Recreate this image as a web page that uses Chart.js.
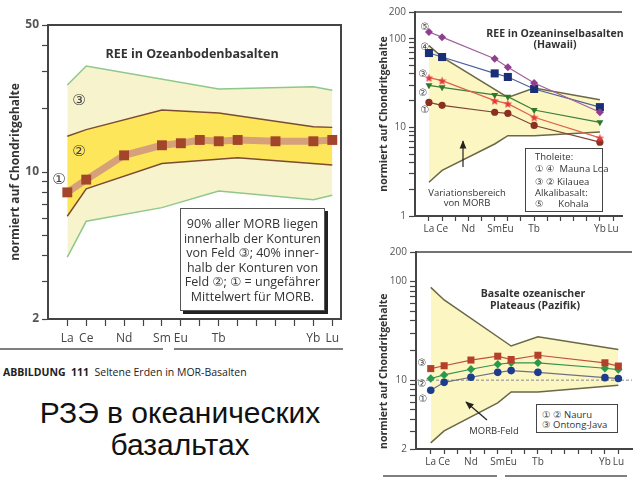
<!DOCTYPE html>
<html>
<head>
<meta charset="utf-8">
<script src="https://cdn.jsdelivr.net/npm/chart.js@4.4.1/dist/chart.umd.min.js"></script>
<style>
  body { margin: 0; width: 640px; height: 480px; background: #fff; position: relative; overflow: hidden;
         font-family: 'Open Sans', sans-serif; color: #333; }
  .pane { position: absolute; }
  .c { position: absolute; transform: translate(-50%, -50%); white-space: nowrap; }
  .l { position: absolute; transform: translateY(-50%); white-space: nowrap; }
  .num { font-family: 'DejaVu Sans', 'Noto Sans CJK JP', sans-serif; color: #444; }
  .ttl { font-weight: bold; color: #333; }
  .note { position: absolute; left: 180px; top: 208px; width: 145px; height: 103px; box-sizing: border-box;
          border: 1.5px solid #555; box-shadow: 3px 3px 0 #222; background: #fff;
          font-size: 12.5px; line-height: 14.6px; text-align: center; padding-top: 8px; color: #333; }
  .legend { position: absolute; border: 1px solid #444; background: #fff; box-sizing: border-box; }
  .ru { position: absolute; left: 0; width: 360px; text-align: center; font-family: 'Liberation Sans', Arial, sans-serif;
        font-size: 30px; color: #111; }
</style>
</head>
<body>

<div class="pane" style="left:0;top:0"><canvas id="floorChart" width="350" height="352"></canvas></div>
<div class="pane" style="left:370px;top:0"><canvas id="hawaiiChart" width="270" height="236"></canvas></div>
<div class="pane" style="left:370px;top:240px"><canvas id="plateauChart" width="270" height="232"></canvas></div>

<!-- Ozeanbodenbasalte -->
<div class="c ttl" style="left:192px;top:53px;font-size:12.5px">REE in Ozeanbodenbasalten</div>
<div class="c num" style="left:79px;top:100px;font-size:15px">③</div>
<div class="c num" style="left:79px;top:151px;font-size:15px">②</div>
<div class="c num" style="left:59px;top:179px;font-size:15px">①</div>
<div class="note">90% aller MORB liegen<br>innerhalb der Konturen<br>von Feld <span class="num">③</span>; 40% inner-<br>halb der Konturen von<br>Feld <span class="num">②</span>; <span class="num">①</span> = ungefährer<br>Mittelwert für MORB.</div>
<div class="l" style="left:3px;top:372px;font-size:10.5px;color:#222"><b>ABBILDUNG&nbsp; 111</b>&nbsp; Seltene Erden in MOR-Basalten</div>
<div class="ru" style="top:397px;line-height:32px">РЗЭ в океанических<br>базальтах</div>

<!-- Hawaii -->
<div class="c ttl" style="left:555px;top:33px;font-size:10.5px">REE in Ozeaninselbasalten</div>
<div class="c ttl" style="left:555px;top:44px;font-size:10.5px">(Hawaii)</div>
<div class="c num" style="left:425px;top:26px;font-size:10px">⑤</div>
<div class="c num" style="left:425px;top:46px;font-size:10px">④</div>
<div class="c num" style="left:423px;top:73px;font-size:10px">③</div>
<div class="c num" style="left:423px;top:92px;font-size:10px">②</div>
<div class="c num" style="left:425px;top:109px;font-size:10px">①</div>
<div class="c" style="left:467px;top:192px;font-size:9.5px">Variationsbereich</div>
<div class="c" style="left:467px;top:202px;font-size:9.5px">von MORB</div>
<div class="legend" style="left:525px;top:148px;width:78px;height:64px"></div>
<div class="l" style="left:535px;top:156px;font-size:9.5px">Tholeite:</div>
<div class="l" style="left:535px;top:168px;font-size:9.5px"><span class="num">①</span> <span class="num">④</span>&nbsp; Mauna Loa</div>
<div class="l" style="left:535px;top:181px;font-size:9.5px"><span class="num">③</span> <span class="num">②</span> Kilauea</div>
<div class="l" style="left:535px;top:192px;font-size:9.5px">Alkalibasalt:</div>
<div class="l" style="left:535px;top:203px;font-size:9.5px"><span class="num">⑤</span>&nbsp;&nbsp;&nbsp;&nbsp;&nbsp; Kohala</div>

<!-- Plateaus -->
<div class="c ttl" style="left:533px;top:293px;font-size:10.5px">Basalte ozeanischer</div>
<div class="c ttl" style="left:535px;top:305px;font-size:10.5px">Plateaus (Pazifik)</div>
<div class="c num" style="left:422px;top:362px;font-size:10px">③</div>
<div class="c num" style="left:422px;top:383px;font-size:10px">②</div>
<div class="c num" style="left:423px;top:398px;font-size:10px">①</div>
<div class="legend" style="left:536px;top:404px;width:82px;height:29px"></div>
<div class="l" style="left:542px;top:414px;font-size:9.5px"><span class="num">①</span> <span class="num">②</span> Nauru</div>
<div class="l" style="left:542px;top:424px;font-size:9.5px"><span class="num">③</span> Ontong-Java</div>
<div class="c" style="left:494px;top:430px;font-size:9.5px">MORB-Feld</div>

<svg class="pane" style="left:0;top:0" width="640" height="480">
  <defs>
    <marker id="head" viewBox="0 0 10 10" refX="9" refY="5" markerWidth="7" markerHeight="7" orient="auto">
      <path d="M0,1 L10,5 L0,9 z" fill="#222"/>
    </marker>
  </defs>
  <g stroke="#555" stroke-width="1.5">
    <line x1="0" y1="349" x2="163" y2="349"/>
    <line x1="174" y1="349" x2="343" y2="349"/>
    <line x1="383" y1="476" x2="497" y2="476"/>
    <line x1="505" y1="476" x2="627" y2="476"/>
  </g>
  <g stroke="#222" stroke-width="1.2">
    <line x1="463" y1="167" x2="463" y2="141" marker-end="url(#head)"/>
    <line x1="487" y1="420" x2="466" y2="402" marker-end="url(#head)"/>
  </g>
</svg>

<script>
// Seltene Erden, La..Lu
const elements = ['La', 'Ce', 'Pr', 'Nd', 'Pm', 'Sm', 'Eu', 'Gd', 'Tb', 'Dy', 'Ho', 'Er', 'Tm', 'Yb', 'Lu'];
const shownLabels = ['La', 'Ce', 'Nd', 'Sm', 'Eu', 'Tb', 'Yb', 'Lu'];

// REE in Ozeanbodenbasalten (MORB)
const morbMeanEl = ['La', 'Ce', 'Nd', 'Sm', 'Eu', 'Gd', 'Tb', 'Dy', 'Er', 'Yb', 'Lu'];
const morbMean = [8.0, 9.2, 12.0, 13.4, 13.7, 14.2, 14.0, 14.2, 14.0, 14.0, 14.2];
const field3UpperEl = ['La', 'Ce', 'Tb', 'Yb', 'Lu'];
const field3Upper = [25.9, 31.9, 24.8, 25.4, 24.5];
const field3LowerEl = ['La', 'Ce', 'Sm', 'Tb', 'Yb', 'Lu'];
const field3Lower = [3.94, 5.83, 6.77, 8.13, 7.39, 7.75];
const field2UpperEl = ['La', 'Ce', 'Sm', 'Tb', 'Yb', 'Lu'];
const field2Upper = [14.8, 15.9, 19.7, 19.1, 16.4, 16.3];
const field2LowerEl = ['La', 'Ce', 'Sm', 'Dy', 'Lu'];
const field2Lower = [6.16, 8.31, 10.97, 11.68, 10.81];
const floorTicks = [2, 3, 4, 5, 6, 7, 8, 9, 10, 20, 30, 40, 50];
const floorTickLabels = [2, 10, 50];

// REE in Ozeaninselbasalten (Hawaii)
const hawaiiEl = ['La', 'Ce', 'Sm', 'Eu', 'Tb', 'Yb'];
const kohala5 = [119, 104, 59.5, 47.5, 31.6, 14.8];
const maunaLoa4 = [68.9, 62.1, 40.6, 37.0, 27.1, 16.9];
const kilauea3 = [36.3, 33.6, 20.0, 18.5, 13.0, 7.6];
const kilauea2 = [29.8, 28.3, 23.2, 22.2, 15.7, 11.4];
const maunaLoa1 = [19.1, 17.7, 14.8, 14.4, 10.5, 6.8];
const hawaiiMorbUpperEl = ['La', 'Ce', 'Eu', 'Tb', 'Yb'];
const hawaiiMorbUpper = [83.4, 62.1, 21.8, 27.8, 20.5];
const hawaiiMorbLowerEl = ['La', 'Ce', 'Sm', 'Eu', 'Tb', 'Yb'];
const hawaiiMorbLower = [2.4, 3.27, 6.49, 8.06, 8.06, 8.86];
const hawaiiTicks = [1, 2, 3, 4, 5, 6, 7, 8, 9, 10, 20, 30, 40, 50, 60, 70, 80, 90, 100, 200];
const hawaiiTickLabels = [1, 10, 100, 200];

// Basalte ozeanischer Plateaus (Pazifik)
const plateauEl = ['La', 'Ce', 'Nd', 'Sm', 'Eu', 'Tb', 'Yb', 'Lu'];
const ontongJava3 = [13.1, 14.0, 16.0, 17.5, 16.2, 17.9, 15.0, 13.9];
const nauru2 = [10.4, 11.3, 12.9, 14.5, 15.0, 15.0, 13.2, 12.8];
const nauru1 = [7.9, 9.5, 10.7, 12.0, 12.5, 12.0, 10.6, 10.4];
const plateauMorbUpperEl = ['La', 'Ce', 'Eu', 'Tb', 'Lu'];
const plateauMorbUpper = [87.5, 65.2, 22.2, 27.6, 20.5];
const plateauMorbLowerEl = ['La', 'Ce', 'Sm', 'Eu', 'Tb', 'Lu'];
const plateauMorbLower = [2.31, 3.05, 5.87, 7.6, 7.6, 8.9];
const chondriteRef = 10;
const plateauTicks = [2, 3, 4, 5, 6, 7, 8, 9, 10, 20, 30, 40, 50, 60, 70, 80, 90, 100, 200];
const plateauTickLabels = [2, 10, 100, 200];

Chart.defaults.font.family = "'Open Sans', sans-serif";
Chart.defaults.animation = false;
Chart.defaults.events = [];
Chart.defaults.plugins.legend.display = false;
Chart.defaults.plugins.tooltip.enabled = false;

const pts = (els, vals) => els.map((el, i) => ({ x: elements.indexOf(el), y: vals[i] }));

// Rahmen oben (und rechts) um den Plotbereich
const frame = {
    id: 'frame',
    afterDraw(chart, args, o) {
        const { ctx, chartArea: a } = chart;
        ctx.save();
        ctx.strokeStyle = o.color || '#444';
        ctx.lineWidth = o.width || 2;
        ctx.beginPath();
        ctx.moveTo(a.left, a.top);
        ctx.lineTo(a.right, a.top);
        if (o.right) ctx.lineTo(a.right, a.bottom);
        ctx.stroke();
        ctx.restore();
    }
};

function starImage(size, color) {
    const c = document.createElement('canvas');
    c.width = c.height = size;
    const g = c.getContext('2d');
    g.fillStyle = color;
    g.beginPath();
    for (let i = 0; i < 10; i++) {
        const r = i % 2 ? size * 0.22 : size * 0.5;
        const ang = -Math.PI / 2 + i * Math.PI / 5;
        g.lineTo(size / 2 + r * Math.cos(ang), size / 2 + r * Math.sin(ang) + 0.5);
    }
    g.closePath();
    g.fill();
    return c;
}

function elementAxis(min, max, height, tickLength, padding, fontSize) {
    return {
        type: 'linear', min, max,
        afterBuildTicks: (s) => { s.ticks = elements.map((_, i) => ({ value: i })); },
        afterFit: (s) => { s.height = height; },
        ticks: {
            autoSkip: false, maxRotation: 0, padding, color: '#444', font: { size: fontSize },
            callback: (v) => (shownLabels.includes(elements[v]) ? elements[v] : '')
        },
        grid: { drawOnChartArea: false, tickLength, tickColor: '#444', tickWidth: 1.2 },
        border: { color: '#444', width: 2 }
    };
}

function logAxis(min, max, tickValues, labelValues, width, fontSize, labelWeight, titleSize, titleAlign) {
    return {
        type: 'logarithmic', min, max,
        afterBuildTicks: (s) => { s.ticks = tickValues.map((v) => ({ value: v })); },
        afterFit: (s) => { s.width = width; },
        ticks: {
            autoSkip: false, padding: 3, color: '#555', font: { size: fontSize, weight: labelWeight },
            callback: (v) => (labelValues.includes(v) ? String(v) : '')
        },
        grid: { drawOnChartArea: false, tickLength: 6, tickColor: '#444', tickWidth: 1.2 },
        border: { color: '#444', width: 2 },
        title: {
            display: true, text: 'normiert auf Chondritgehalte', align: titleAlign,
            color: '#333', font: { size: titleSize, weight: 'bold' }, padding: 0
        }
    };
}

const boundary = (data, color, fill, fillColor, order) => ({
    data, borderColor: color, borderWidth: 1.5, pointRadius: 0, tension: 0,
    fill: fill ? '+1' : false, backgroundColor: fillColor || 'transparent', order
});

const series = (data, line, mark, pointStyle, pointRadius, rotation) => ({
    data, borderColor: line, borderWidth: 1.2, tension: 0, fill: false, order: 1,
    pointStyle, pointRadius, rotation: rotation || 0,
    pointBackgroundColor: mark, pointBorderColor: mark, pointBorderWidth: 0
});

// REE in Ozeanbodenbasalten
new Chart(document.getElementById('floorChart'), {
    type: 'line',
    data: {
        datasets: [
            boundary(pts(field3UpperEl, field3Upper), '#8fc88a', true, '#f6f3cd', 5),
            boundary(pts(field3LowerEl, field3Lower), '#8fc88a', false, null, 4),
            boundary(pts(field2UpperEl, field2Upper), '#7b4b36', true, '#fde65a', 3),
            boundary(pts(field2LowerEl, field2Lower), '#7b4b36', false, null, 2),
            {
                data: pts(morbMeanEl, morbMean), borderColor: '#d5a07a', borderWidth: 7, tension: 0, order: 1,
                pointStyle: 'rect', pointRadius: 7, pointBackgroundColor: '#a3452a', pointBorderWidth: 0
            }
        ]
    },
    options: {
        responsive: false,
        layout: { padding: { left: 8, top: 25, right: 9, bottom: 3 } },
        scales: {
            x: elementAxis(-1.02, 14.46, 30, 7, 5, 12),
            y: logAxis(2, 50, floorTicks, floorTickLabels, 40, 12, 'bold', 12, 'center')
        },
        plugins: { frame: { right: true, color: '#444', width: 2 } }
    },
    plugins: [frame]
});

// REE in Ozeaninselbasalten (Hawaii)
new Chart(document.getElementById('hawaiiChart'), {
    type: 'line',
    data: {
        datasets: [
            boundary(pts(hawaiiMorbUpperEl, hawaiiMorbUpper), '#6a6845', true, '#fcf6c2', 3),
            boundary(pts(hawaiiMorbLowerEl, hawaiiMorbLower), '#6a6845', false, null, 2),
            series(pts(hawaiiEl, kohala5), '#a0609a', '#8e3f8e', 'rectRot', 4),
            series(pts(hawaiiEl, maunaLoa4), '#4c5f9c', '#1a2e78', 'rect', 5.7),
            series(pts(hawaiiEl, kilauea3), '#e0604a', '#e23a3a', starImage(9, '#e23a3a'), 4),
            series(pts(hawaiiEl, kilauea2), '#3d7d3d', '#2a7a2a', 'triangle', 4, 180),
            series(pts(hawaiiEl, maunaLoa1), '#7d4335', '#8b3020', 'circle', 3.6)
        ]
    },
    options: {
        responsive: false,
        layout: { padding: { left: 8, top: 12, right: 18, bottom: 2 } },
        scales: {
            x: elementAxis(-1.06, 14.68, 18, 5, 2, 10),
            y: logAxis(1, 200, hawaiiTicks, hawaiiTickLabels, 37, 10, 'normal', 10.5, 'center')
        },
        plugins: { frame: { right: false, color: '#444', width: 1.5 } }
    },
    plugins: [frame]
});

// Basalte ozeanischer Plateaus (Pazifik)
const plateauXMin = -1.1;
const plateauXMax = 15.02;
new Chart(document.getElementById('plateauChart'), {
    type: 'line',
    data: {
        datasets: [
            boundary(pts(plateauMorbUpperEl, plateauMorbUpper), '#6a6845', true, '#fcf6c2', 4),
            boundary(pts(plateauMorbLowerEl, plateauMorbLower), '#6a6845', false, null, 3),
            {
                data: [{ x: plateauXMin, y: chondriteRef }, { x: plateauXMax, y: chondriteRef }],
                borderColor: '#888', borderWidth: 1, borderDash: [3, 2], pointRadius: 0, order: 2
            },
            series(pts(plateauEl, ontongJava3), '#c05040', '#b5402a', 'rect', 5),
            series(pts(plateauEl, nauru2), '#3a9050', '#2a9a4a', 'rectRot', 4.2),
            series(pts(plateauEl, nauru1), '#6a7288', '#1e3c8c', 'circle', 3.8)
        ]
    },
    options: {
        responsive: false,
        layout: { padding: { left: 8, top: 12, right: 8, bottom: 3 } },
        scales: {
            x: elementAxis(plateauXMin, plateauXMax, 20, 5, 2, 10),
            y: logAxis(2, 200, plateauTicks, plateauTickLabels, 38, 10, 'normal', 10.5, 'start')
        },
        plugins: { frame: { right: false, color: '#444', width: 1.5 } }
    },
    plugins: [frame]
});
</script>
</body>
</html>
